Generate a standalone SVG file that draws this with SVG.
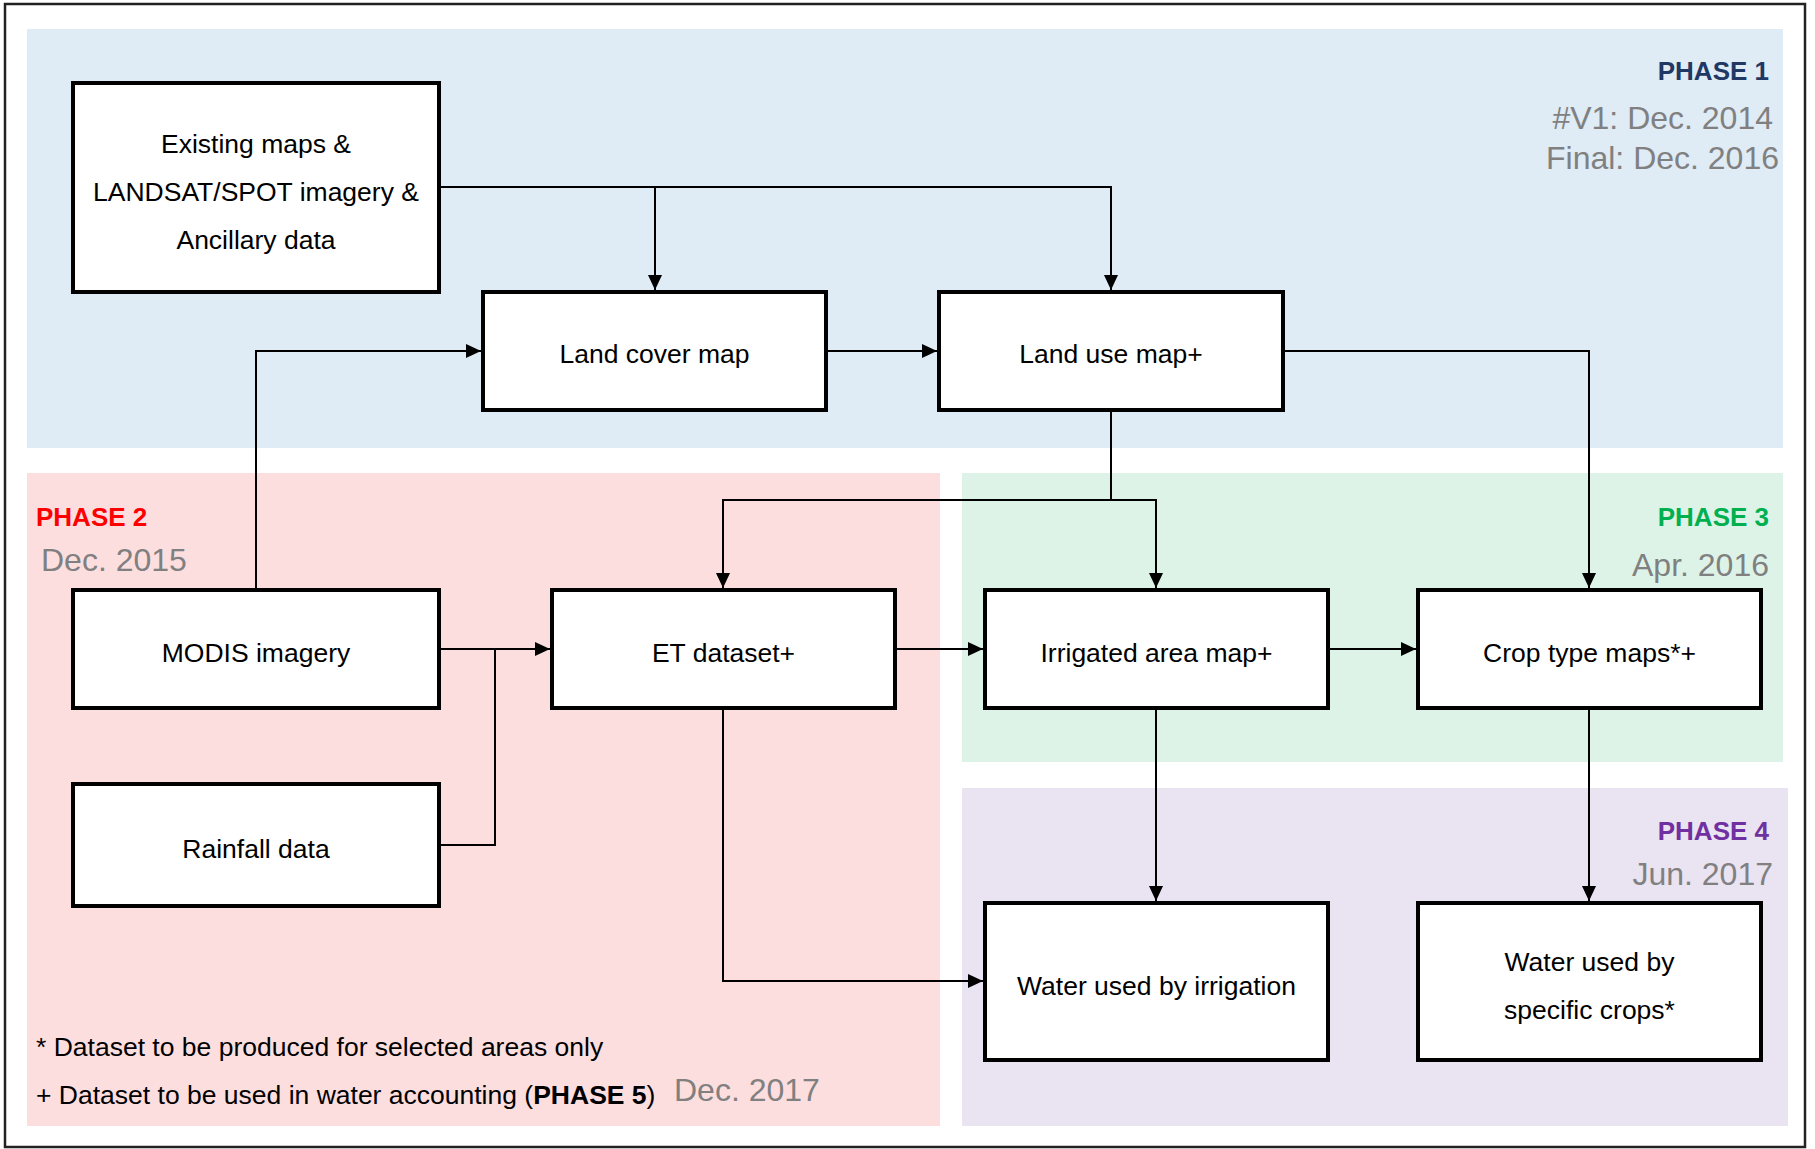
<svg xmlns="http://www.w3.org/2000/svg" width="1815" height="1149" viewBox="0 0 1815 1149">
<style>
.box{fill:#fff;stroke:#000;stroke-width:4}
.lbl{font-family:"Liberation Sans",Arial,sans-serif;font-size:26.5px;fill:#000;text-anchor:middle}
.con{fill:none;stroke:#000;stroke-width:2}
.ph{font-family:"Liberation Sans",Arial,sans-serif;font-size:26px;font-weight:bold}
.dt{font-family:"Liberation Sans",Arial,sans-serif;font-size:32px;fill:#808080}
.note{font-family:"Liberation Sans",Arial,sans-serif;font-size:26.5px;fill:#000}
</style>
<defs>
<marker id="arr" markerWidth="15" markerHeight="16" refX="15" refY="8" orient="auto" markerUnits="userSpaceOnUse">
<path d="M0,1 L15,8 L0,15 z" fill="#000"/>
</marker>
</defs>
<rect x="0" y="0" width="1815" height="1149" fill="#fff"/>
<rect x="5" y="4" width="1800" height="1143" fill="none" stroke="#222" stroke-width="2.5"/>
<g id="panels">
<rect x="27" y="29" width="1756" height="419" fill="#DFEBF5"/>
<rect x="27" y="473" width="913" height="653" fill="#FDDEDF"/>
<rect x="962" y="473" width="821" height="289" fill="#DEF3E7"/>
<rect x="962" y="788" width="826" height="338" fill="#EAE3F2"/>
</g>
<g id="phase-labels">
<text class="ph" x="1769" y="80" text-anchor="end" fill="#1F3864">PHASE 1</text>
<text class="dt" x="1773" y="129" text-anchor="end">#V1: Dec. 2014</text>
<text class="dt" x="1779" y="169" text-anchor="end">Final: Dec. 2016</text>
<text class="ph" x="36" y="526" fill="#FF0000">PHASE 2</text>
<text class="dt" x="41" y="571">Dec. 2015</text>
<text class="ph" x="1769" y="526" text-anchor="end" fill="#00B050">PHASE 3</text>
<text class="dt" x="1769" y="576" text-anchor="end">Apr. 2016</text>
<text class="ph" x="1769" y="840" text-anchor="end" fill="#7030A0">PHASE 4</text>
<text class="dt" x="1773" y="885" text-anchor="end">Jun. 2017</text>
<text class="note" x="36" y="1056">* Dataset to be produced for selected areas only</text>
<text class="note" x="36" y="1104">+ Dataset to be used in water accounting (<tspan font-weight="bold">PHASE 5</tspan>)</text>
<text class="dt" x="674" y="1101">Dec. 2017</text>
</g>
<g id="connectors">
<path class="con" d="M439,187 H1111 V290" marker-end="url(#arr)"/>
<path class="con" d="M655,187 V290" marker-end="url(#arr)"/>
<path class="con" d="M256,590 V351 H481" marker-end="url(#arr)"/>
<path class="con" d="M826,351 H937" marker-end="url(#arr)"/>
<path class="con" d="M1283,351 H1589 V588" marker-end="url(#arr)"/>
<path class="con" d="M1111,410 V500"/>
<path class="con" d="M1111,500 H723 V588" marker-end="url(#arr)"/>
<path class="con" d="M1111,500 H1156 V588" marker-end="url(#arr)"/>
<path class="con" d="M439,649 H550" marker-end="url(#arr)"/>
<path class="con" d="M439,845 H495 V649"/>
<path class="con" d="M895,649 H983" marker-end="url(#arr)"/>
<path class="con" d="M1328,649 H1416" marker-end="url(#arr)"/>
<path class="con" d="M723,708 V981 H983" marker-end="url(#arr)"/>
<path class="con" d="M1156,708 V901" marker-end="url(#arr)"/>
<path class="con" d="M1589,708 V901" marker-end="url(#arr)"/>
</g>
<g id="existing">
<rect class="box" x="73" y="83" width="366" height="209"/>
<text class="lbl" x="256" y="153">Existing maps &amp;</text>
<text class="lbl" x="256" y="201">LANDSAT/SPOT imagery &amp;</text>
<text class="lbl" x="256" y="249">Ancillary data</text>
</g>
<g id="landcover">
<rect class="box" x="483" y="292" width="343" height="118"/>
<text class="lbl" x="654.5" y="363">Land cover map</text>
</g>
<g id="landuse">
<rect class="box" x="939" y="292" width="344" height="118"/>
<text class="lbl" x="1111" y="363">Land use map+</text>
</g>
<g id="modis">
<rect class="box" x="73" y="590" width="366" height="118"/>
<text class="lbl" x="256" y="662">MODIS imagery</text>
</g>
<g id="et">
<rect class="box" x="552" y="590" width="343" height="118"/>
<text class="lbl" x="723.5" y="662">ET dataset+</text>
</g>
<g id="irrigated">
<rect class="box" x="985" y="590" width="343" height="118"/>
<text class="lbl" x="1156.5" y="662">Irrigated area map+</text>
</g>
<g id="croptype">
<rect class="box" x="1418" y="590" width="343" height="118"/>
<text class="lbl" x="1589.5" y="662">Crop type maps*+</text>
</g>
<g id="rainfall">
<rect class="box" x="73" y="784" width="366" height="122"/>
<text class="lbl" x="256" y="858">Rainfall data</text>
</g>
<g id="water-irrigation">
<rect class="box" x="985" y="903" width="343" height="157"/>
<text class="lbl" x="1156.5" y="995">Water used by irrigation</text>
</g>
<g id="water-crops">
<rect class="box" x="1418" y="903" width="343" height="157"/>
<text class="lbl" x="1589.5" y="971">Water used by</text>
<text class="lbl" x="1589.5" y="1019">specific crops*</text>
</g>
</svg>
